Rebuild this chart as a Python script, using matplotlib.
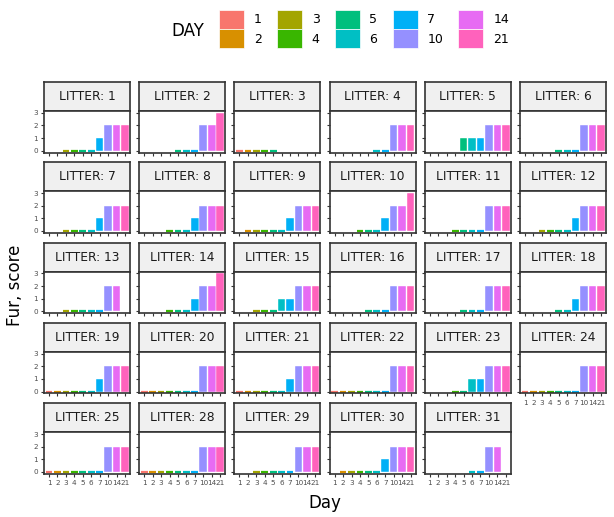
import matplotlib.pyplot as plt
import numpy as np
from matplotlib.patches import Patch

N = np.nan

# Dias de observação e cores (paleta hue do ggplot)
days = ['1', '2', '3', '4', '5', '6', '7', '10', '14', '21']
day_colors = ['#F8766D', '#D89000', '#A3A500', '#39B600', '#00BF7D',
              '#00BFC4', '#00B0F6', '#9590FF', '#E76BF3', '#FF62BC']

litters = [1, 2, 3, 4, 5, 6, 7, 8, 9, 10, 11, 12, 13, 14, 15,
           16, 17, 18, 19, 20, 21, 22, 23, 24, 25, 28, 29, 30, 31]

# Pontuação de pelo por ninhada (NaN = sem registro naquele dia)
fur_scores = [
    [N, N, 0, 0, 0, 0, 1, 2, 2, 2],
    [N, N, N, N, 0, 0, 0, 2, 2, 3],
    [0, 0, 0, 0, 0, N, N, N, N, N],
    [N, N, N, N, N, 0, 0, 2, 2, 2],
    [N, N, N, N, 1, 1, 1, 2, 2, 2],
    [N, N, N, N, 0, 0, 0, 2, 2, 2],
    [N, N, 0, 0, 0, 0, 1, 2, 2, 2],
    [N, N, N, 0, 0, 0, 1, 2, 2, 2],
    [N, 0, 0, 0, 0, 0, 1, 2, 2, 2],
    [N, N, N, 0, 0, 0, 1, 2, 2, 3],
    [N, N, N, 0, 0, 0, 0, 2, 2, 2],
    [N, N, 0, 0, 0, 0, 1, 2, 2, 2],
    [N, N, 0, 0, 0, 0, 0, 2, 2, N],
    [N, N, N, 0, 0, 0, 1, 2, 2, 3],
    [N, N, 0, 0, 0, 1, 1, 2, 2, 2],
    [N, N, N, N, 0, 0, 0, 2, 2, 2],
    [N, N, N, N, 0, 0, 0, 2, 2, 2],
    [N, N, N, N, 0, 0, 1, 2, 2, 2],
    [0, 0, 0, 0, 0, 0, 1, 2, 2, 2],
    [0, 0, 0, 0, 0, 0, 0, 2, 2, 2],
    [0, 0, 0, 0, 0, 0, 1, 2, 2, 2],
    [0, 0, 0, 0, 0, 0, 0, 2, 2, 2],
    [N, N, N, 0, 0, 1, 1, 2, 2, 2],
    [0, 0, 0, 0, 0, 0, 0, 2, 2, 2],
    [0, 0, 0, 0, 0, 0, 0, 2, 2, 2],
    [0, 0, 0, 0, 0, 0, 0, 2, 2, 2],
    [N, N, 0, 0, 0, 0, 0, 2, 2, 2],
    [N, 0, 0, 0, 0, 0, 1, 2, 2, 2],
    [N, N, N, N, N, 0, 0, 2, 2, N],
]

W, H = 614, 517
fig = plt.figure(figsize=(W / 100, H / 100), dpi=100)

ncols = 6
left0, col_step, panel_w = 44, 95.2, 86
top0, row_step, strip_h, plot_h = 82, 80.3, 29, 41.5


def px_axes(x, y, w, h):
    # posição em pixels (origem no topo) -> coordenadas da figura
    return fig.add_axes([x / W, 1 - (y + h) / H, w / W, h / H])


n = len(litters)
for i, (lit, vals) in enumerate(zip(litters, fur_scores)):
    r, c = divmod(i, ncols)
    x = left0 + c * col_step
    y = top0 + r * row_step

    # faixa do título do painel
    sax = px_axes(x, y, panel_w, strip_h)
    sax.set_facecolor('#F0F0F0')
    sax.set_xticks([])
    sax.set_yticks([])
    for s in sax.spines.values():
        s.set_color('#333333')
        s.set_linewidth(1.2)
    sax.text(0.5, 0.5, f'LITTER: {lit}', ha='center', va='center',
             fontsize=8.8, color='#1A1A1A', transform=sax.transAxes)

    ax = px_axes(x, y + strip_h, panel_w, plot_h)
    xs = np.arange(len(days))
    for j, v in enumerate(vals):
        if np.isnan(v):
            continue
        if v == 0:
            # barra de altura zero aparece como um traço colorido
            ax.hlines(v, j - 0.4, j + 0.4, colors=day_colors[j],
                      linewidth=1.6, capstyle='butt')
        else:
            ax.bar(j, v, width=0.9, color=day_colors[j],
                   edgecolor='white', linewidth=0.3)
    ax.set_xlim(-0.6, len(days) - 0.4)
    ax.set_ylim(-0.15, 3.15)
    for s in ax.spines.values():
        s.set_color('#333333')
        s.set_linewidth(1.2)

    ax.set_yticks([0, 1, 2, 3])
    if c == 0:
        ax.set_yticklabels(['0', '1', '2', '3'])
    else:
        ax.set_yticklabels([])
        ax.tick_params(axis='y', length=0)
    ax.set_xticks(xs)
    last_in_col = i + ncols >= n
    if last_in_col:
        ax.set_xticklabels(days)
    else:
        ax.set_xticklabels([])
        ax.tick_params(axis='x', length=0)
    ax.tick_params(labelsize=5.2, colors='#333333', labelcolor='#4D4D4D',
                   length=2.5, width=0.8, pad=2)

fig.text(15 / W, 1 - 285 / H, 'Fur, score', rotation=90, ha='center',
         va='center', fontsize=12)
fig.text((left0 + (col_step * 5 + panel_w) / 2) / W, 1 - 503 / H, 'Day',
         ha='center', va='center', fontsize=12)

# Legenda no topo
handles = [Patch(facecolor=col, edgecolor='white', linewidth=0.5, label=d)
           for d, col in zip(days, day_colors)]
fig.text(188 / W, 1 - 31 / H, 'DAY', ha='center', va='center', fontsize=12)
fig.legend(handles=handles, ncol=5, loc='upper left',
           bbox_to_anchor=(210 / W, 1 - 1 / H), frameon=False, fontsize=9,
           handlelength=2.0, handleheight=2.0, labelspacing=0.0,
           handletextpad=0.8, columnspacing=1.2, borderpad=0.2)

fig.savefig('out.png', dpi=100)
